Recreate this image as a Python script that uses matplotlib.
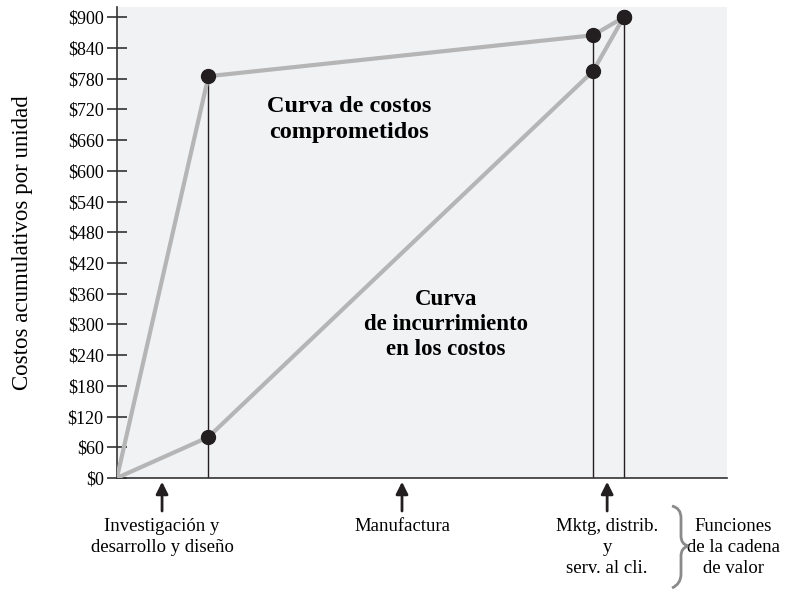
import matplotlib.pyplot as plt
from matplotlib.ticker import FuncFormatter
from matplotlib.path import Path
from matplotlib.patches import PathPatch

# position along the value chain (arbitrary scale 0-100)
stage_x = [0, 15, 78, 83]
committed = [0, 785, 865, 900]
incurred = [0, 80, 795, 900]

y_ticks = list(range(0, 901, 60))

arrow_x = [7.4, 46.7, 80.3]
functions = ["Investigación y\ndesarrollo y diseño", "Manufactura",
             "Mktg, distrib.\ny\nserv. al cli."]

plt.rcParams['font.family'] = ['Liberation Serif', 'DejaVu Serif']

fig = plt.figure(figsize=(7.95, 5.93), dpi=100)
ax = fig.add_axes([0.147, 0.194, 0.768, 0.794])
ax.set_facecolor('#f1f2f4')

# vertical drop lines from the committed curve
for x, y in zip(stage_x[1:], committed[1:]):
    ax.plot([x, x], [0, y], color='#231f20', lw=1, zorder=2)

ax.plot(stage_x, committed, color='#b5b5b5', lw=3, zorder=3, solid_capstyle='round')
ax.plot(stage_x, incurred, color='#b5b5b5', lw=3, zorder=3, solid_capstyle='round')
ax.plot(stage_x[1:], committed[1:], 'o', color='#231f20', ms=10, zorder=4)
ax.plot(stage_x[1:], incurred[1:], 'o', color='#231f20', ms=10, zorder=4)

ax.set_xlim(0, 100)
ax.set_ylim(0, 920)
ax.set_xticks([])
ax.set_yticks(y_ticks)
ax.yaxis.set_major_formatter(FuncFormatter(lambda v, p: f"${v:.0f}"))
ax.tick_params(axis='y', direction='inout', length=15, width=1.2,
               color='#333333', labelsize=13, pad=2)
for s in ['top', 'right']:
    ax.spines[s].set_visible(False)
for s in ['left', 'bottom']:
    ax.spines[s].set_color('#333333')
    ax.spines[s].set_linewidth(1.2)

ax.set_ylabel("Costos acumulativos por unidad", fontsize=16.5)
ax.yaxis.set_label_coords(-0.138, 0.5)

ax.text(38.0, 700, "Curva de costos\ncomprometidos", ha='center', va='center',
        fontsize=17.5, fontweight='bold', linespacing=1.28)
ax.text(53.9, 300, "Curva\nde incurrimiento\nen los costos", ha='center', va='center',
        fontsize=16.5, fontweight='bold', linespacing=1.25)

for x, name in zip(arrow_x, functions):
    ax.annotate("", xy=(x, -2), xytext=(x, -70),
                arrowprops=dict(arrowstyle='-|>', color='#231f20', lw=2,
                                mutation_scale=18),
                annotation_clip=False)
    ax.text(x, -78, name, ha='center', va='top', fontsize=13.5,
            linespacing=1.3)

# curly brace drawn in pixel space of the figure
def px(x, y):
    return fig.transFigure.inverted().transform((x, 593 - y))

bx = [(672, 506), (681, 508), (681, 518), (681, 536), (681, 544), (688, 546),
      (681, 548), (681, 556), (681, 574), (681, 584), (672, 588)]
codes = [Path.MOVETO] + [Path.CURVE3, Path.CURVE3, Path.LINETO] + \
        [Path.CURVE3, Path.CURVE3, Path.CURVE3, Path.CURVE3, Path.LINETO,
         Path.CURVE3, Path.CURVE3]
brace = Path([px(*p) for p in bx], codes)
fig.add_artist(PathPatch(brace, transform=fig.transFigure, fill=False,
                         edgecolor='#8a8a8a', lw=2))

ax.text(101, -78, "Funciones\nde la cadena\nde valor", ha='center', va='top',
        fontsize=13.5, linespacing=1.3)

fig.savefig("out.png", dpi=100)
